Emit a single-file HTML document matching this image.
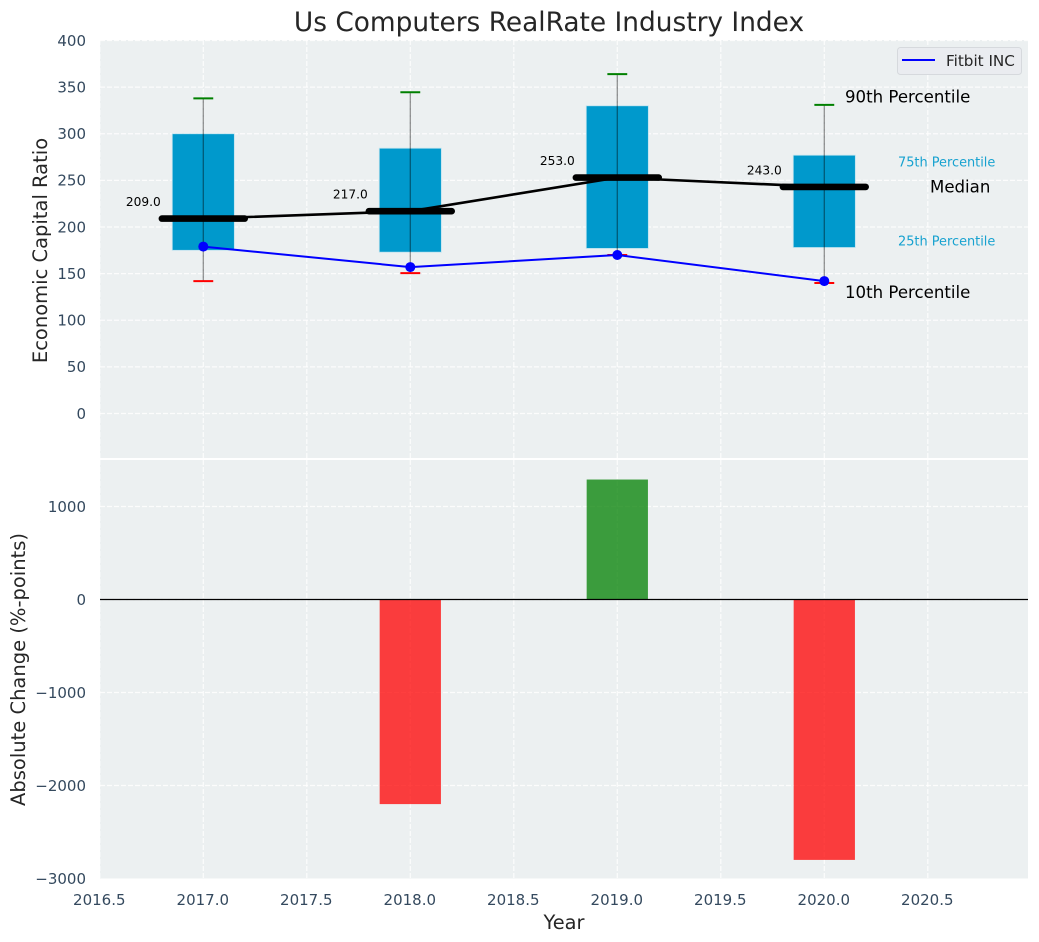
<!DOCTYPE html>
<html lang="en">
<head>
<meta charset="utf-8">
<title>Us Computers RealRate Industry Index</title>
<style>
html,body{margin:0;padding:0;background:#fff;}
svg{display:block;font-family:"DejaVu Sans","Liberation Sans",sans-serif;}
</style>
</head>
<body>
<svg id="chart" xmlns="http://www.w3.org/2000/svg" width="1039" height="942" viewBox="0 0 1039 942"></svg>
<script>
const years = [2017, 2018, 2019, 2020];
const p90 = [338, 344.5, 364, 331];
const p75 = [300, 284.5, 330, 277];
const medians = [209, 217, 253, 243];
const p25 = [175, 173, 177, 178];
const p10 = [142, 150.5, 170, 140];
const fitbit = [179, 157, 170, 142];
const changeYears = [2018, 2019, 2020];
const changes = [-2200, 1290, -2800];
const xTicks = [2016.5, 2017, 2017.5, 2018, 2018.5, 2019, 2019.5, 2020, 2020.5];
const xTickLabels = ['2016.5', '2017.0', '2017.5', '2018.0', '2018.5', '2019.0', '2019.5', '2020.0', '2020.5'];
const topTicks = [0, 50, 100, 150, 200, 250, 300, 350, 400];
const bottomTicks = [-3000, -2000, -1000, 0, 1000];
const bottomTickLabels = ['\u22123000', '\u22122000', '\u22121000', '0', '1000'];

const svg = document.getElementById('chart');
const NS = 'http://www.w3.org/2000/svg';
const L = 100, R = 1028, T1 = 40, B1 = 458, T2 = 460, B2 = 878.5;
const x = v => 203.3 + (v - 2017) * 207;
const yTop = v => 413.5 - v * 0.9325;
const yBot = v => 599.5 - v * 0.093;

function mk(tag, attrs, text) {
  const e = document.createElementNS(NS, tag);
  for (const k in attrs) e.setAttribute(k, attrs[k]);
  if (text !== undefined) e.textContent = text;
  svg.appendChild(e);
  return e;
}
let el;

el = mk('rect', {x: L, y: T1, width: R - L, height: B1 - T1, fill: '#ecf0f1'});


el = mk('rect', {x: L, y: T2, width: R - L, height: B2 - T2, fill: '#ecf0f1'});



const gridStyle = {stroke: '#fff', 'stroke-width': 1.2, 'stroke-dasharray': '5 2', opacity: 0.85};
xTicks.forEach((t, i) => {
  el = mk('line', Object.assign({x1: x(t), x2: x(t), y1: T1, y2: B1}, gridStyle));
  
  
  el = mk('line', Object.assign({x1: x(t), x2: x(t), y1: T2, y2: B2}, gridStyle));
  
  
  el = mk('text', {x: x(t) - 0.5, y: 905, 'text-anchor': 'middle', 'font-size': 15, fill: '#34495e'}, xTickLabels[i]);
  
  
});
topTicks.forEach(t => {
  el = mk('line', Object.assign({x1: L, x2: R, y1: yTop(t), y2: yTop(t)}, gridStyle));
  
  
  el = mk('text', {x: 86, y: yTop(t) + 5.3, 'text-anchor': 'end', 'font-size': 15, fill: '#34495e'}, String(t));
  
  
});
bottomTicks.forEach((t, i) => {
  if (t > -3000) {
    el = mk('line', Object.assign({x1: L, x2: R, y1: yBot(t), y2: yBot(t)}, gridStyle));
    
    
  }
  el = mk('text', {x: 86, y: yBot(t) + 5.3, 'text-anchor': 'end', 'font-size': 15, fill: '#34495e'}, bottomTickLabels[i]);
  
  
});

/* percentile boxes */
years.forEach((yr, i) => {
  el = mk('rect', {x: x(yr - 0.15), y: yTop(p75[i]), width: x(yr + 0.15) - x(yr - 0.15), height: yTop(p25[i]) - yTop(p75[i]), fill: '#0099cc', stroke: '#bfe3ef', 'stroke-width': 0.8});
  
  
});

/* median connecting line */
el = mk('polyline', {points: years.map((yr, i) => x(yr) + ',' + yTop(medians[i])).join(' '), fill: 'none', stroke: '#000', 'stroke-width': 2.6});



/* whiskers, caps, median bars */
years.forEach((yr, i) => {
  el = mk('line', {x1: x(yr), x2: x(yr), y1: yTop(p90[i]), y2: yTop(p10[i]), stroke: '#000', 'stroke-opacity': 0.42, 'stroke-width': 1.3});
  
  
  el = mk('line', {x1: x(yr - 0.048), x2: x(yr + 0.048), y1: yTop(p90[i]), y2: yTop(p90[i]), stroke: '#008000', 'stroke-width': 2});
  
  
  el = mk('line', {x1: x(yr - 0.048), x2: x(yr + 0.048), y1: yTop(p10[i]), y2: yTop(p10[i]), stroke: '#ff0000', 'stroke-width': 2});
  
  
  el = mk('line', {x1: x(yr - 0.2), x2: x(yr + 0.2), y1: yTop(medians[i]), y2: yTop(medians[i]), stroke: '#000', 'stroke-width': 6.6, 'stroke-linecap': 'round'});
  
  
  el = mk('text', {x: x(yr) - 60, y: yTop(medians[i]) - 12.5, 'text-anchor': 'middle', 'font-size': 12.2, fill: '#000'}, medians[i].toFixed(1));
  
  
});

/* Fitbit series */
el = mk('polyline', {points: years.map((yr, i) => x(yr) + ',' + yTop(fitbit[i])).join(' '), fill: 'none', stroke: '#0000ff', 'stroke-width': 2});


years.forEach((yr, i) => {
  el = mk('circle', {cx: x(yr), cy: yTop(fitbit[i]), r: 5, fill: '#0000ff'});
  
  
});

/* change bars */
changeYears.forEach((yr, i) => {
  const v = changes[i];
  el = mk('rect', {x: x(yr - 0.148), width: x(yr + 0.148) - x(yr - 0.148), y: Math.min(yBot(v), yBot(0)), height: Math.abs(yBot(v) - yBot(0)), fill: v < 0 ? '#ff0000' : '#008000', 'fill-opacity': 0.75});
  
  
});
el = mk('line', {x1: L, x2: R, y1: yBot(0), y2: yBot(0), stroke: '#000', 'stroke-width': 1.3});



/* annotations, anchored to the final year's values */
const last = years.length - 1;
el = mk('text', {x: 845, y: yTop(p90[last]) - 2.5, 'font-size': 16.6, fill: '#000'}, '90th Percentile');


el = mk('text', {x: 845, y: yTop(p10[last]) + 15, 'font-size': 16.6, fill: '#000'}, '10th Percentile');


el = mk('text', {x: 930, y: yTop(medians[last]) + 5.5, 'font-size': 16.6, fill: '#000'}, 'Median');


el = mk('text', {x: 898, y: yTop(p75[last]) + 11.5, 'font-size': 12.9, fill: '#0099cc', 'fill-opacity': 0.9}, '75th Percentile');


el = mk('text', {x: 898, y: yTop(p25[last]) - 2, 'font-size': 12.9, fill: '#0099cc', 'fill-opacity': 0.9}, '25th Percentile');



/* legend */
el = mk('rect', {x: 897.5, y: 47.5, width: 124, height: 27, rx: 3, fill: '#eaecf0', stroke: '#d6d9dd', 'stroke-width': 1});


el = mk('line', {x1: 902, x2: 935, y1: 60, y2: 60, stroke: '#0000ff', 'stroke-width': 2});


el = mk('text', {x: 946, y: 66, 'font-size': 15.2, fill: '#262626'}, 'Fitbit INC');



/* titles */
el = mk('text', {x: 549, y: 31, 'text-anchor': 'middle', 'font-size': 26.4, fill: '#262626'}, 'Us Computers RealRate Industry Index');


el = mk('text', {x: 564, y: 929, 'text-anchor': 'middle', 'font-size': 19.4, fill: '#262626'}, 'Year');


el = mk('text', {transform: 'translate(47,250.5) rotate(-90)', 'text-anchor': 'middle', 'font-size': 19.5, fill: '#262626'}, 'Economic Capital Ratio');


el = mk('text', {transform: 'translate(25,669.5) rotate(-90)', 'text-anchor': 'middle', 'font-size': 19.5, fill: '#262626'}, 'Absolute Change (%-points)');


</script>
</body>
</html>
